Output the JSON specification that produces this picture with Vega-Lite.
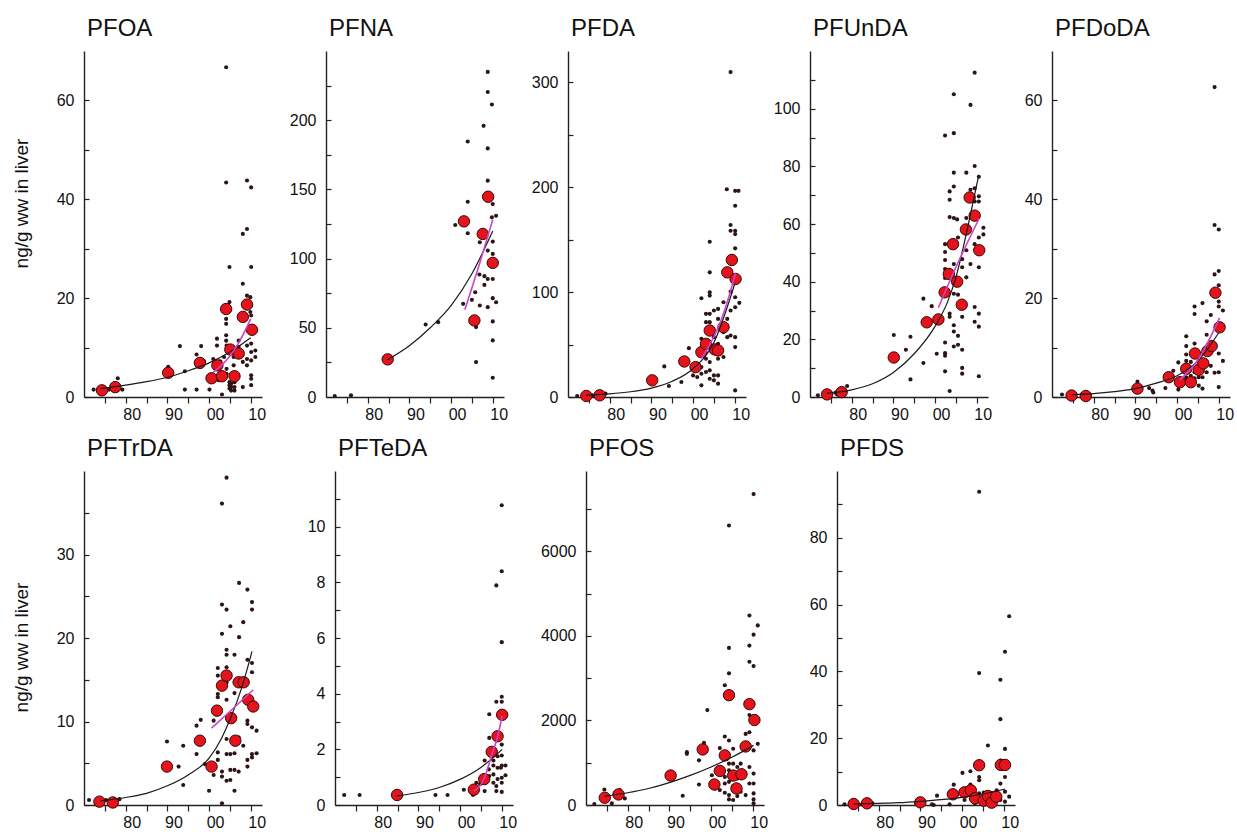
{
"$schema": "https://vega.github.io/schema/vega-lite/v6.json",
"background": "white",
"padding": {"left": 12, "top": 17, "right": 0, "bottom": 0},
"spacing": 15,
"datasets": {
"PFOA": [
{"k":"m","x":1974.3,"y":1.35},{"k":"m","x":1977.5,"y":2.0},{"k":"m","x":1990.2,"y":4.9},{"k":"m","x":1997.8,"y":6.9},{"k":"m","x":2000.6,"y":3.8},{"k":"m","x":2002,"y":6.4},{"k":"m","x":2003.1,"y":4.2},{"k":"m","x":2004.1,"y":17.8},{"k":"m","x":2005.1,"y":9.6},{"k":"m","x":2006.1,"y":4.2},{"k":"m","x":2007.1,"y":8.8},{"k":"m","x":2008.1,"y":16.2},{"k":"m","x":2009.1,"y":18.7},{"k":"m","x":2010.3,"y":13.6},
{"k":"f","x":1974,"y":1.7},{"k":"f","x":1980,"y":2.4},{"k":"f","x":1985,"y":3.1},{"k":"f","x":1990,"y":4.0},{"k":"f","x":1995,"y":5.3},{"k":"f","x":2000,"y":6.9},{"k":"f","x":2005,"y":9.1},{"k":"f","x":2010,"y":12.0},
{"k":"t","x":2001,"y":5.0},{"k":"t","x":2003,"y":6.4},{"k":"t","x":2005,"y":8.3},{"k":"t","x":2007,"y":10.8},{"k":"t","x":2010,"y":15.8},
{"k":"s","x":1972.3,"y":1.5},{"k":"s","x":1975.2,"y":1.6},{"k":"s","x":1976,"y":1.5},{"k":"s","x":1978,"y":1.6},{"k":"s","x":1979.2,"y":1.5},{"k":"s","x":1978.1,"y":3.8},{"k":"s","x":1990.2,"y":6.1},{"k":"s","x":1993,"y":10.3},{"k":"s","x":1994.2,"y":5.2},{"k":"s","x":1994.2,"y":1.5},{"k":"s","x":1997,"y":1.5},{"k":"s","x":1997,"y":8.6},{"k":"s","x":1998.1,"y":10.3},{"k":"s","x":1998.8,"y":7.2},{"k":"s","x":2000.1,"y":1.5},{"k":"s","x":2001,"y":7.7},{"k":"s","x":2001.9,"y":11.8},{"k":"s","x":2001.9,"y":10.4},{"k":"s","x":2002.3,"y":3.4},{"k":"s","x":2002.7,"y":7.2},{"k":"s","x":2003.1,"y":0.5},{"k":"s","x":2003.6,"y":8.1},{"k":"s","x":2004.1,"y":43.4},{"k":"s","x":2004.1,"y":66.7},{"k":"s","x":2004.1,"y":15.8},{"k":"s","x":2004.1,"y":14.8},{"k":"s","x":2004.1,"y":12.5},{"k":"s","x":2004.1,"y":11.4},{"k":"s","x":2004.2,"y":10.4},{"k":"s","x":2004.2,"y":5.7},{"k":"s","x":2004.2,"y":4.7},{"k":"s","x":2004.9,"y":26.3},{"k":"s","x":2004.9,"y":19.2},{"k":"s","x":2004.9,"y":3.0},{"k":"s","x":2004.9,"y":2.4},{"k":"s","x":2004.9,"y":1.7},{"k":"s","x":2005.3,"y":2.7},{"k":"s","x":2005.3,"y":2.0},{"k":"s","x":2005.3,"y":1.3},{"k":"s","x":2005.9,"y":9.1},{"k":"s","x":2005.9,"y":8.1},{"k":"s","x":2005.9,"y":6.4},{"k":"s","x":2006.1,"y":3.0},{"k":"s","x":2006.1,"y":2.0},{"k":"s","x":2006.1,"y":1.3},{"k":"s","x":2007.1,"y":11.4},{"k":"s","x":2007.1,"y":10.1},{"k":"s","x":2008.1,"y":22.9},{"k":"s","x":2008.1,"y":33},{"k":"s","x":2008.1,"y":2.0},{"k":"s","x":2008.1,"y":7.1},{"k":"s","x":2009.1,"y":43.8},{"k":"s","x":2009.1,"y":34},{"k":"s","x":2009.1,"y":20.5},{"k":"s","x":2009.9,"y":20.2},{"k":"s","x":2009.1,"y":7.7},{"k":"s","x":2009.1,"y":6.4},{"k":"s","x":2009.9,"y":17.2},{"k":"s","x":2010.1,"y":42.4},{"k":"s","x":2010.1,"y":26.3},{"k":"s","x":2010.1,"y":18.5},{"k":"s","x":2010.1,"y":16.5},{"k":"s","x":2010.1,"y":10.8},{"k":"s","x":2010.1,"y":9.1},{"k":"s","x":2010.1,"y":7.4},{"k":"s","x":2010.1,"y":4.4},{"k":"s","x":2010.1,"y":3.7},{"k":"s","x":2010.1,"y":2.4},{"k":"s","x":2011.1,"y":9.4},{"k":"s","x":2011.1,"y":8.1},{"k":"s","x":2009.1,"y":10.4}
],
"PFNA": [
{"k":"m","x":1984.8,"y":27.2},{"k":"m","x":2003.1,"y":126.9},{"k":"m","x":2005.6,"y":55.3},{"k":"m","x":2007.6,"y":117.8},{"k":"m","x":2008.9,"y":144.7},{"k":"m","x":2010,"y":96.9},
{"k":"f","x":1984.8,"y":27},{"k":"f","x":1990,"y":37},{"k":"f","x":1995,"y":50},{"k":"f","x":2000,"y":66},{"k":"f","x":2005,"y":89},{"k":"f","x":2010,"y":120},
{"k":"t","x":2003.3,"y":63},{"k":"t","x":2006.7,"y":95},{"k":"t","x":2010,"y":128},
{"k":"s","x":1972.1,"y":0.7},{"k":"s","x":1976,"y":1.2},{"k":"s","x":1993.9,"y":52.4},{"k":"s","x":1996.9,"y":54.1},{"k":"s","x":2001,"y":124.3},{"k":"s","x":2002.9,"y":67.3},{"k":"s","x":2004,"y":184.6},{"k":"s","x":2004,"y":141.1},{"k":"s","x":2004,"y":118.3},{"k":"s","x":2005,"y":70.2},{"k":"s","x":2005.8,"y":75.7},{"k":"s","x":2006,"y":50.5},{"k":"s","x":2006,"y":25.2},{"k":"s","x":2006.8,"y":88.5},{"k":"s","x":2006.9,"y":111.8},{"k":"s","x":2006.9,"y":66.1},{"k":"s","x":2007.8,"y":195.9},{"k":"s","x":2008,"y":87.3},{"k":"s","x":2008,"y":81},{"k":"s","x":2008.8,"y":234.9},{"k":"s","x":2008.8,"y":220.4},{"k":"s","x":2008.8,"y":179.6},{"k":"s","x":2008.8,"y":156.3},{"k":"s","x":2008.8,"y":105.8},{"k":"s","x":2008.8,"y":85.3},{"k":"s","x":2008.8,"y":64.9},{"k":"s","x":2009.8,"y":211.3},{"k":"s","x":2010,"y":139.4},{"k":"s","x":2009.8,"y":129.8},{"k":"s","x":2010,"y":112.3},{"k":"s","x":2010,"y":103.4},{"k":"s","x":2010,"y":85.3},{"k":"s","x":2010,"y":71.4},{"k":"s","x":2010,"y":54.6},{"k":"s","x":2010,"y":40.9},{"k":"s","x":2010,"y":13.9},{"k":"s","x":2010.8,"y":131},{"k":"s","x":2010.8,"y":68.5}
],
"PFDA": [
{"k":"m","x":1974.4,"y":1},{"k":"m","x":1977.6,"y":1.6},{"k":"m","x":1990.2,"y":15.9},{"k":"m","x":1997.9,"y":33.9},{"k":"m","x":2000.6,"y":28.5},{"k":"m","x":2002,"y":42.8},{"k":"m","x":2003.1,"y":50.7},{"k":"m","x":2004,"y":63.4},{"k":"m","x":2005.2,"y":45.4},{"k":"m","x":2006,"y":44.4},{"k":"m","x":2007.3,"y":66.6},{"k":"m","x":2008.2,"y":118.9},{"k":"m","x":2009.3,"y":130.7},{"k":"m","x":2010.2,"y":112.6},
{"k":"f","x":1974.4,"y":1.8},{"k":"f","x":1980,"y":3},{"k":"f","x":1985,"y":5},{"k":"f","x":1990,"y":8.5},{"k":"f","x":1995,"y":15},{"k":"f","x":2000,"y":27},{"k":"f","x":2005,"y":52},{"k":"f","x":2010,"y":108},
{"k":"t","x":2002,"y":37},{"k":"t","x":2004,"y":50},{"k":"t","x":2006,"y":66},{"k":"t","x":2008,"y":88},{"k":"t","x":2010.2,"y":118},
{"k":"s","x":1972.2,"y":1},{"k":"s","x":1975.8,"y":1.6},{"k":"s","x":1976.8,"y":1},{"k":"s","x":1979,"y":3.2},{"k":"s","x":1993.1,"y":29.2},{"k":"s","x":1994.2,"y":10.5},{"k":"s","x":1997.2,"y":14.3},{"k":"s","x":1999,"y":46.6},{"k":"s","x":2000,"y":20.6},{"k":"s","x":2001,"y":19},{"k":"s","x":2002,"y":94.2},{"k":"s","x":2002,"y":55.5},{"k":"s","x":2002,"y":28.5},{"k":"s","x":2002,"y":22.2},{"k":"s","x":2002,"y":11.1},{"k":"s","x":2003.1,"y":79.3},{"k":"s","x":2003.1,"y":71.4},{"k":"s","x":2003.1,"y":49.2},{"k":"s","x":2003.1,"y":36.5},{"k":"s","x":2003.1,"y":23.8},{"k":"s","x":2004,"y":148.1},{"k":"s","x":2004,"y":118.9},{"k":"s","x":2004,"y":99.9},{"k":"s","x":2004,"y":96.7},{"k":"s","x":2004,"y":79.3},{"k":"s","x":2004,"y":71.4},{"k":"s","x":2004,"y":61.8},{"k":"s","x":2004,"y":33.3},{"k":"s","x":2004,"y":25.4},{"k":"s","x":2004,"y":17.4},{"k":"s","x":2005,"y":82.5},{"k":"s","x":2005,"y":57.1},{"k":"s","x":2005,"y":20.6},{"k":"s","x":2005,"y":15.9},{"k":"s","x":2006,"y":84},{"k":"s","x":2006,"y":74.5},{"k":"s","x":2006,"y":50.7},{"k":"s","x":2006,"y":36.5},{"k":"s","x":2006,"y":20.6},{"k":"s","x":2006,"y":12.7},{"k":"s","x":2007.3,"y":90.4},{"k":"s","x":2007.3,"y":61.8},{"k":"s","x":2007.3,"y":38.1},{"k":"s","x":2008.1,"y":198.2},{"k":"s","x":2008.2,"y":57.1},{"k":"s","x":2008.2,"y":74.5},{"k":"s","x":2009,"y":164},{"k":"s","x":2009,"y":158.6},{"k":"s","x":2009,"y":309.9},{"k":"s","x":2009,"y":82.5},{"k":"s","x":2009,"y":58.7},{"k":"s","x":2009,"y":100.5},{"k":"s","x":2010.1,"y":196.6},{"k":"s","x":2010.9,"y":196.6},{"k":"s","x":2010.1,"y":182.4},{"k":"s","x":2010.1,"y":158.6},{"k":"s","x":2010.1,"y":155.4},{"k":"s","x":2010.1,"y":141.8},{"k":"s","x":2010.1,"y":85.6},{"k":"s","x":2010.1,"y":95.1},{"k":"s","x":2010.1,"y":57.1},{"k":"s","x":2010.1,"y":47.6},{"k":"s","x":2010.1,"y":6.3},{"k":"s","x":2011.1,"y":89.8}
],
"PFUnDA": [
{"k":"m","x":1974.1,"y":0.9},{"k":"m","x":1977.6,"y":1.7},{"k":"m","x":1990.1,"y":13.7},{"k":"m","x":1998,"y":25.9},{"k":"m","x":2000.8,"y":26.9},{"k":"m","x":2002.3,"y":36.3},{"k":"m","x":2003.3,"y":42.7},{"k":"m","x":2004.3,"y":53},{"k":"m","x":2005.3,"y":40},{"k":"m","x":2006.4,"y":32},{"k":"m","x":2007.4,"y":58.1},{"k":"m","x":2008.3,"y":69.2},{"k":"m","x":2009.5,"y":62.9},{"k":"m","x":2010.6,"y":50.9},
{"k":"f","x":1974,"y":1.3},{"k":"f","x":1980,"y":2.5},{"k":"f","x":1985,"y":4.6},{"k":"f","x":1990,"y":8.5},{"k":"f","x":1995,"y":15},{"k":"f","x":2000,"y":24.5},{"k":"f","x":2003,"y":33},{"k":"f","x":2005,"y":41.5},{"k":"f","x":2008,"y":60},{"k":"f","x":2010.5,"y":77},
{"k":"t","x":2000.8,"y":31},{"k":"t","x":2005,"y":45},{"k":"t","x":2010.6,"y":62},
{"k":"s","x":1971.9,"y":0.6},{"k":"s","x":1976.1,"y":1.5},{"k":"s","x":1976.5,"y":0.9},{"k":"s","x":1978.9,"y":3.8},{"k":"s","x":1990.1,"y":21.5},{"k":"s","x":1993,"y":16.4},{"k":"s","x":1994.1,"y":20.9},{"k":"s","x":1994.1,"y":6.1},{"k":"s","x":1997.2,"y":11.8},{"k":"s","x":1997.2,"y":34.1},{"k":"s","x":1999.2,"y":31.5},{"k":"s","x":2000.4,"y":15},{"k":"s","x":2001.5,"y":26.3},{"k":"s","x":2002.4,"y":90.7},{"k":"s","x":2002.4,"y":53},{"k":"s","x":2002.4,"y":50.3},{"k":"s","x":2002.4,"y":47.5},{"k":"s","x":2002.4,"y":44.4},{"k":"s","x":2002.4,"y":41.3},{"k":"s","x":2002.4,"y":18.9},{"k":"s","x":2002.4,"y":15.2},{"k":"s","x":2002.4,"y":14.3},{"k":"s","x":2002.4,"y":8.9},{"k":"s","x":2003.5,"y":71.3},{"k":"s","x":2003.5,"y":68.4},{"k":"s","x":2003.5,"y":62.4},{"k":"s","x":2004.5,"y":62.1},{"k":"s","x":2005.3,"y":61.6},{"k":"s","x":2003.5,"y":28.9},{"k":"s","x":2003.5,"y":27.8},{"k":"s","x":2003.5,"y":2.1},{"k":"s","x":2004.5,"y":105},{"k":"s","x":2004.5,"y":91.5},{"k":"s","x":2004.5,"y":77.8},{"k":"s","x":2004.5,"y":73},{"k":"s","x":2004.5,"y":46.1},{"k":"s","x":2004.5,"y":35.8},{"k":"s","x":2004.5,"y":24.9},{"k":"s","x":2004.5,"y":22.7},{"k":"s","x":2004.5,"y":17.5},{"k":"s","x":2005.5,"y":55.3},{"k":"s","x":2005.5,"y":35.5},{"k":"s","x":2005.5,"y":21.2},{"k":"s","x":2005.5,"y":18.1},{"k":"s","x":2006.5,"y":47.8},{"k":"s","x":2006.5,"y":45},{"k":"s","x":2006.5,"y":27.8},{"k":"s","x":2006.5,"y":16.4},{"k":"s","x":2006.5,"y":10.1},{"k":"s","x":2006.5,"y":8.1},{"k":"s","x":2007.5,"y":77.8},{"k":"s","x":2007.5,"y":62.1},{"k":"s","x":2007.5,"y":50.9},{"k":"s","x":2007.5,"y":41.5},{"k":"s","x":2008.5,"y":101.3},{"k":"s","x":2008.5,"y":71.9},{"k":"s","x":2008.5,"y":46.1},{"k":"s","x":2009.5,"y":112.5},{"k":"s","x":2009.5,"y":80.1},{"k":"s","x":2009.5,"y":72.4},{"k":"s","x":2009.5,"y":67.8},{"k":"s","x":2009.5,"y":53},{"k":"s","x":2009.5,"y":31.2},{"k":"s","x":2009.5,"y":26.1},{"k":"s","x":2010.5,"y":76.4},{"k":"s","x":2010.5,"y":69.6},{"k":"s","x":2010.5,"y":67.8},{"k":"s","x":2010.5,"y":55.3},{"k":"s","x":2010.5,"y":45},{"k":"s","x":2010.5,"y":28.9},{"k":"s","x":2010.5,"y":24.4},{"k":"s","x":2010.5,"y":7.2},{"k":"s","x":2011.6,"y":58.7},{"k":"s","x":2011.6,"y":56.4}
],
"PFDoDA": [
{"k":"m","x":1974.7,"y":0.3},{"k":"m","x":1978.1,"y":0.2},{"k":"m","x":1990.5,"y":1.7},{"k":"m","x":1998,"y":4.0},{"k":"m","x":2000.7,"y":3.0},{"k":"m","x":2002.2,"y":5.7},{"k":"m","x":2003.3,"y":3.0},{"k":"m","x":2004.3,"y":8.8},{"k":"m","x":2005.2,"y":5.5},{"k":"m","x":2006.3,"y":6.8},{"k":"m","x":2007.3,"y":9.3},{"k":"m","x":2008.3,"y":10.3},{"k":"m","x":2009.2,"y":21.1},{"k":"m","x":2010.2,"y":14.1},
{"k":"f","x":1974.7,"y":0.5},{"k":"f","x":1980,"y":0.7},{"k":"f","x":1985,"y":1.1},{"k":"f","x":1990,"y":1.7},{"k":"f","x":1995,"y":2.8},{"k":"f","x":2000,"y":4.3},{"k":"f","x":2005,"y":7.3},{"k":"f","x":2010,"y":13.0},
{"k":"t","x":2000.7,"y":3.5},{"k":"t","x":2005,"y":7.5},{"k":"t","x":2010.2,"y":16},
{"k":"s","x":1972.4,"y":0.5},{"k":"s","x":1977.1,"y":0.5},{"k":"s","x":1979,"y":0.5},{"k":"s","x":1990.5,"y":3.1},{"k":"s","x":1993.3,"y":1.8},{"k":"s","x":1994.1,"y":1.3},{"k":"s","x":1994.3,"y":0.9},{"k":"s","x":1997.2,"y":1.8},{"k":"s","x":1999.1,"y":5.3},{"k":"s","x":2000.3,"y":1.5},{"k":"s","x":2000.3,"y":2.5},{"k":"s","x":2000.3,"y":7},{"k":"s","x":2002.2,"y":12.3},{"k":"s","x":2002.2,"y":10.3},{"k":"s","x":2002.2,"y":8.6},{"k":"s","x":2002.2,"y":7.3},{"k":"s","x":2002.2,"y":4},{"k":"s","x":2002.2,"y":3.3},{"k":"s","x":2003.3,"y":7.1},{"k":"s","x":2003.3,"y":4.3},{"k":"s","x":2003.3,"y":3.7},{"k":"s","x":2004.2,"y":18.3},{"k":"s","x":2004.2,"y":16.8},{"k":"s","x":2004.2,"y":10.8},{"k":"s","x":2004.2,"y":8.6},{"k":"s","x":2004.2,"y":5},{"k":"s","x":2004.2,"y":3.8},{"k":"s","x":2005.2,"y":7.3},{"k":"s","x":2005.2,"y":6},{"k":"s","x":2005.2,"y":4},{"k":"s","x":2005.2,"y":2.3},{"k":"s","x":2006.1,"y":19},{"k":"s","x":2006.1,"y":8.8},{"k":"s","x":2006.1,"y":4},{"k":"s","x":2006.1,"y":1.7},{"k":"s","x":2007.1,"y":15.3},{"k":"s","x":2007.1,"y":12.6},{"k":"s","x":2007.1,"y":6.7},{"k":"s","x":2007.1,"y":5},{"k":"s","x":2008.1,"y":16.6},{"k":"s","x":2008.1,"y":9.4},{"k":"s","x":2008.1,"y":6.3},{"k":"s","x":2009,"y":62.7},{"k":"s","x":2009,"y":34.8},{"k":"s","x":2009,"y":24.8},{"k":"s","x":2009,"y":4.9},{"k":"s","x":2010,"y":33.9},{"k":"s","x":2010,"y":25.5},{"k":"s","x":2010,"y":22.6},{"k":"s","x":2010,"y":19.3},{"k":"s","x":2010,"y":18.3},{"k":"s","x":2010,"y":8.8},{"k":"s","x":2010,"y":5},{"k":"s","x":2010,"y":2},{"k":"s","x":2011,"y":17.5},{"k":"s","x":2011,"y":7.3}
],
"PFTrDA": [
{"k":"m","x":1973.7,"y":0.4},{"k":"m","x":1976.9,"y":0.3},{"k":"m","x":1989.9,"y":4.6},{"k":"m","x":1997.8,"y":7.7},{"k":"m","x":2000.6,"y":4.6},{"k":"m","x":2001.9,"y":11.3},{"k":"m","x":2003.1,"y":14.3},{"k":"m","x":2004.2,"y":15.5},{"k":"m","x":2005.3,"y":10.4},{"k":"m","x":2006.3,"y":7.7},{"k":"m","x":2007.1,"y":14.7},{"k":"m","x":2008.3,"y":14.7},{"k":"m","x":2009.4,"y":12.6},{"k":"m","x":2010.6,"y":11.8},
{"k":"f","x":1974,"y":0.5},{"k":"f","x":1980,"y":0.9},{"k":"f","x":1985,"y":1.4},{"k":"f","x":1990,"y":2.3},{"k":"f","x":1995,"y":3.6},{"k":"f","x":2000,"y":5.6},{"k":"f","x":2003,"y":8.0},{"k":"f","x":2005,"y":10.2},{"k":"f","x":2008,"y":14.3},{"k":"f","x":2010.3,"y":18.4},
{"k":"t","x":2000.6,"y":9.2},{"k":"t","x":2005,"y":11.2},{"k":"t","x":2010.6,"y":13.8},
{"k":"s","x":1971.2,"y":0.6},{"k":"s","x":1975.3,"y":0.6},{"k":"s","x":1976.5,"y":0.5},{"k":"s","x":1978.5,"y":0.7},{"k":"s","x":1989.9,"y":7.6},{"k":"s","x":1992.7,"y":4.6},{"k":"s","x":1993.8,"y":7.1},{"k":"s","x":1993.8,"y":2.4},{"k":"s","x":1997,"y":9.5},{"k":"s","x":1997,"y":6.1},{"k":"s","x":1998,"y":10.2},{"k":"s","x":1999,"y":4.9},{"k":"s","x":2000,"y":1.7},{"k":"s","x":2001.1,"y":10.1},{"k":"s","x":2001.1,"y":3.6},{"k":"s","x":2002.1,"y":16.4},{"k":"s","x":2002.1,"y":15.5},{"k":"s","x":2002.1,"y":13.3},{"k":"s","x":2002.1,"y":12.9},{"k":"s","x":2002.1,"y":6.3},{"k":"s","x":2002.1,"y":5.4},{"k":"s","x":2003.1,"y":36.1},{"k":"s","x":2003.1,"y":24},{"k":"s","x":2003.1,"y":20.5},{"k":"s","x":2003.1,"y":0.2},{"k":"s","x":2003.1,"y":4},{"k":"s","x":2003.1,"y":3.4},{"k":"s","x":2004.2,"y":39.2},{"k":"s","x":2004.2,"y":23.4},{"k":"s","x":2004.2,"y":18.6},{"k":"s","x":2004.2,"y":18},{"k":"s","x":2004.2,"y":16.5},{"k":"s","x":2004.2,"y":14.7},{"k":"s","x":2004.2,"y":12.6},{"k":"s","x":2004.2,"y":7.9},{"k":"s","x":2004.2,"y":6.1},{"k":"s","x":2004.2,"y":2.9},{"k":"s","x":2005.1,"y":21.4},{"k":"s","x":2005.1,"y":4.2},{"k":"s","x":2005.1,"y":3},{"k":"s","x":2005.1,"y":6.1},{"k":"s","x":2006.1,"y":18},{"k":"s","x":2006.1,"y":13.4},{"k":"s","x":2006.1,"y":6.2},{"k":"s","x":2006.1,"y":4.2},{"k":"s","x":2006.1,"y":1.7},{"k":"s","x":2007.1,"y":4},{"k":"s","x":2007.1,"y":8.1},{"k":"s","x":2007.2,"y":26.6},{"k":"s","x":2007.2,"y":20.1},{"k":"s","x":2008.2,"y":21.9},{"k":"s","x":2008.2,"y":7.1},{"k":"s","x":2009.2,"y":25.8},{"k":"s","x":2009.2,"y":17.4},{"k":"s","x":2009.2,"y":10.1},{"k":"s","x":2009.2,"y":9.7},{"k":"s","x":2009.2,"y":5.4},{"k":"s","x":2009.2,"y":4.6},{"k":"s","x":2010.3,"y":24.3},{"k":"s","x":2010.3,"y":23.4},{"k":"s","x":2010.3,"y":17},{"k":"s","x":2010.3,"y":15.9},{"k":"s","x":2010.3,"y":9.3},{"k":"s","x":2010.3,"y":6.1},{"k":"s","x":2010.3,"y":5.7},{"k":"s","x":2011.4,"y":8.9},{"k":"s","x":2011.4,"y":6.2}
],
"PFTeDA": [
{"k":"m","x":1984.9,"y":0.36},{"k":"m","x":2003.3,"y":0.55},{"k":"m","x":2005.8,"y":0.93},{"k":"m","x":2007.6,"y":1.91},{"k":"m","x":2009,"y":2.47},{"k":"m","x":2010.1,"y":3.24},
{"k":"f","x":1984.9,"y":0.33},{"k":"f","x":1990,"y":0.45},{"k":"f","x":1995,"y":0.63},{"k":"f","x":2000,"y":0.92},{"k":"f","x":2005,"y":1.35},{"k":"f","x":2010.1,"y":2.0},
{"k":"t","x":2003.3,"y":0.5},{"k":"t","x":2005.8,"y":0.95},{"k":"t","x":2007.6,"y":1.8},{"k":"t","x":2009,"y":2.45},{"k":"t","x":2010.1,"y":3.2},
{"k":"s","x":1972.2,"y":0.36},{"k":"s","x":1975.9,"y":0.36},{"k":"s","x":1994.1,"y":0.36},{"k":"s","x":1997,"y":0.36},{"k":"s","x":2000.9,"y":0.55},{"k":"s","x":2003.1,"y":0.36},{"k":"s","x":2003.9,"y":0.8},{"k":"s","x":2004.8,"y":0.75},{"k":"s","x":2005.9,"y":0.5},{"k":"s","x":2005.9,"y":1.6},{"k":"s","x":2006.9,"y":1.28},{"k":"s","x":2007,"y":3.26},{"k":"s","x":2007,"y":2.41},{"k":"s","x":2007,"y":1.04},{"k":"s","x":2008,"y":1.99},{"k":"s","x":2008,"y":1.6},{"k":"s","x":2008,"y":1.42},{"k":"s","x":2008,"y":1.1},{"k":"s","x":2008,"y":0.8},{"k":"s","x":2008.7,"y":7.89},{"k":"s","x":2008.7,"y":3.71},{"k":"s","x":2008.7,"y":0.68},{"k":"s","x":2008.7,"y":0.5},{"k":"s","x":2009,"y":1.34},{"k":"s","x":2009,"y":0.93},{"k":"s","x":2009,"y":1.75},{"k":"s","x":2009.8,"y":1.34},{"k":"s","x":2010,"y":10.77},{"k":"s","x":2010,"y":8.4},{"k":"s","x":2010,"y":5.85},{"k":"s","x":2010,"y":3.89},{"k":"s","x":2010,"y":3.71},{"k":"s","x":2010,"y":2.17},{"k":"s","x":2010,"y":1.78},{"k":"s","x":2010,"y":1.42},{"k":"s","x":2010,"y":0.98},{"k":"s","x":2010,"y":0.8},{"k":"s","x":2010,"y":0.47},{"k":"s","x":2010.9,"y":1.42},{"k":"s","x":2010.9,"y":1.07}
],
"PFOS": [
{"k":"m","x":1974.5,"y":172},{"k":"m","x":1977.8,"y":250},{"k":"m","x":1990.3,"y":696},{"k":"m","x":1998,"y":1314},{"k":"m","x":2000.8,"y":485},{"k":"m","x":2002.1,"y":806},{"k":"m","x":2003.3,"y":1173},{"k":"m","x":2004.3,"y":2597},{"k":"m","x":2005.3,"y":696},{"k":"m","x":2006.1,"y":391},{"k":"m","x":2007.3,"y":727},{"k":"m","x":2008.3,"y":1385},{"k":"m","x":2009.2,"y":2386},{"k":"m","x":2010.4,"y":2010},
{"k":"f","x":1974.5,"y":210},{"k":"f","x":1980,"y":290},{"k":"f","x":1985,"y":390},{"k":"f","x":1990,"y":530},{"k":"f","x":1995,"y":700},{"k":"f","x":2000,"y":900},{"k":"f","x":2005,"y":1130},{"k":"f","x":2010.2,"y":1410},
{"k":"s","x":1972,"y":23},{"k":"s","x":1974.4,"y":368},{"k":"s","x":1976.2,"y":39},{"k":"s","x":1978.1,"y":352},{"k":"s","x":1979.3,"y":156},{"k":"s","x":1993.2,"y":219},{"k":"s","x":1994.2,"y":1250},{"k":"s","x":1994.2,"y":1210},{"k":"s","x":1997.1,"y":1056},{"k":"s","x":1997.1,"y":485},{"k":"s","x":1998.3,"y":1471},{"k":"s","x":1999.1,"y":2245},{"k":"s","x":2000.2,"y":704},{"k":"s","x":2001,"y":391},{"k":"s","x":2002.1,"y":1346},{"k":"s","x":2002.1,"y":352},{"k":"s","x":2003.3,"y":2832},{"k":"s","x":2003.3,"y":1619},{"k":"s","x":2003.3,"y":665},{"k":"s","x":2003.3,"y":509},{"k":"s","x":2003.3,"y":289},{"k":"s","x":2004.3,"y":6610},{"k":"s","x":2004.3,"y":3716},{"k":"s","x":2004.3,"y":3114},{"k":"s","x":2004.3,"y":1525},{"k":"s","x":2004.3,"y":978},{"k":"s","x":2004.3,"y":821},{"k":"s","x":2004.3,"y":548},{"k":"s","x":2004.3,"y":235},{"k":"s","x":2004.3,"y":133},{"k":"s","x":2005.3,"y":1330},{"k":"s","x":2005.3,"y":978},{"k":"s","x":2005.3,"y":446},{"k":"s","x":2005.3,"y":117},{"k":"s","x":2006.3,"y":900},{"k":"s","x":2006.3,"y":211},{"k":"s","x":2006.3,"y":626},{"k":"s","x":2007.1,"y":743},{"k":"s","x":2007.1,"y":313},{"k":"s","x":2007.1,"y":978},{"k":"s","x":2008.3,"y":1682},{"k":"s","x":2008.3,"y":235},{"k":"s","x":2009.2,"y":4483},{"k":"s","x":2009.2,"y":3771},{"k":"s","x":2009.2,"y":3387},{"k":"s","x":2009.2,"y":2128},{"k":"s","x":2009.2,"y":1721},{"k":"s","x":2009.2,"y":900},{"k":"s","x":2009.2,"y":508},{"k":"s","x":2010.2,"y":7354},{"k":"s","x":2010.2,"y":4029},{"k":"s","x":2010.2,"y":3286},{"k":"s","x":2010.2,"y":1291},{"k":"s","x":2010.2,"y":743},{"k":"s","x":2010.2,"y":508},{"k":"s","x":2010.2,"y":274},{"k":"s","x":2010.2,"y":133},{"k":"s","x":2010.2,"y":39},{"k":"s","x":2011.2,"y":4248},{"k":"s","x":2011.2,"y":1447}
],
"PFDS": [
{"k":"m","x":1974,"y":0.3},{"k":"m","x":1977.2,"y":0.5},{"k":"m","x":1990,"y":0.8},{"k":"m","x":1997.8,"y":3.2},{"k":"m","x":2000.6,"y":3.8},{"k":"m","x":2002.1,"y":4.4},{"k":"m","x":2003.1,"y":2.0},{"k":"m","x":2004.1,"y":11.9},{"k":"m","x":2005.2,"y":1.3},{"k":"m","x":2006.2,"y":2.7},{"k":"m","x":2007.1,"y":0.7},{"k":"m","x":2008.2,"y":2.5},{"k":"m","x":2009.3,"y":12.0},{"k":"m","x":2010.3,"y":12.0},
{"k":"f","x":1974,"y":0.3},{"k":"f","x":1980,"y":0.5},{"k":"f","x":1985,"y":0.7},{"k":"f","x":1990,"y":1.1},{"k":"f","x":1995,"y":1.6},{"k":"f","x":2000,"y":2.3},{"k":"f","x":2005,"y":3.3},{"k":"f","x":2010.3,"y":4.8},
{"k":"s","x":1971.8,"y":0.2},{"k":"s","x":1976,"y":0.2},{"k":"s","x":1978.5,"y":0.5},{"k":"s","x":1989,"y":0.5},{"k":"s","x":1992.8,"y":0.2},{"k":"s","x":1993.2,"y":0},{"k":"s","x":1994,"y":2.8},{"k":"s","x":1997,"y":0.2},{"k":"s","x":1998,"y":6.1},{"k":"s","x":2000.1,"y":9.6},{"k":"s","x":2000.6,"y":1.5},{"k":"s","x":2002,"y":10.1},{"k":"s","x":2002,"y":6.1},{"k":"s","x":2003.1,"y":2.5},{"k":"s","x":2003.1,"y":0.5},{"k":"s","x":2004.1,"y":93.8},{"k":"s","x":2004.1,"y":39.5},{"k":"s","x":2004.1,"y":8.4},{"k":"s","x":2004.1,"y":7.4},{"k":"s","x":2004.1,"y":3.5},{"k":"s","x":2004.1,"y":1.5},{"k":"s","x":2005.2,"y":3.7},{"k":"s","x":2005.2,"y":0.7},{"k":"s","x":2006.2,"y":17.8},{"k":"s","x":2006.2,"y":1.5},{"k":"s","x":2007.2,"y":3.5},{"k":"s","x":2007.2,"y":1},{"k":"s","x":2008.3,"y":2},{"k":"s","x":2008.3,"y":4.4},{"k":"s","x":2009.2,"y":37.5},{"k":"s","x":2009.2,"y":25.7},{"k":"s","x":2009.2,"y":13.3},{"k":"s","x":2009.2,"y":6.4},{"k":"s","x":2009.2,"y":1.5},{"k":"s","x":2010.3,"y":45.9},{"k":"s","x":2010.3,"y":16.8},{"k":"s","x":2010.3,"y":10.9},{"k":"s","x":2010.3,"y":8.4},{"k":"s","x":2010.3,"y":4},{"k":"s","x":2010.3,"y":1},{"k":"s","x":2011.3,"y":56.5},{"k":"s","x":2011.3,"y":2.5}
]
},
"vconcat": [
{"bounds": "flush", "spacing": 64, "hconcat": [
{"width":178,"height":346,"title":"PFOA","data":{"name":"PFOA"},
"encoding":{"x":{"field":"x","type":"quantitative","scale":{"domain":[1970,2012.7],"nice":false,"zero":false},"axis":{"values":[1975,1980,1985,1990,1995,2000,2005,2010],"labelExpr":"datum.value % 10 === 0 ? substring(toString(datum.value), 2, 4) : ''","title":null}},
"y":{"field":"y","type":"quantitative","scale":{"domain":[0,70],"nice":false},"axis":{"values":[0,10,20,30,40,50,60],"labelExpr":"datum.value % 20 === 0 ? datum.label : ''","title":"ng/g ww in liver","titleY":152}}},
"layer":[
{"transform":[{"filter":"datum.k == 's'"}],"mark":{"type":"circle","size":17,"color":"#2e1414","opacity":1}},
{"transform":[{"filter":"datum.k == 'm'"}],"mark":{"type":"circle","size":130,"fill":"#e5131b","stroke":"#3a0505","strokeWidth":1,"opacity":1}},
{"transform":[{"filter":"datum.k == 'f'"}],"mark":{"type":"line","color":"#1a1a1a","strokeWidth":1.2,"interpolate":"monotone"},"encoding":{}},
{"transform":[{"filter":"datum.k == 't'"}],"mark":{"type":"line","color":"#cc44cc","strokeWidth":1.6,"interpolate":"monotone"},"encoding":{}}
]},
{"width":178,"height":346,"title":"PFNA","data":{"name":"PFNA"},
"encoding":{"x":{"field":"x","type":"quantitative","scale":{"domain":[1970,2012.7],"nice":false,"zero":false},"axis":{"values":[1975,1980,1985,1990,1995,2000,2005,2010],"labelExpr":"datum.value % 10 === 0 ? substring(toString(datum.value), 2, 4) : ''","title":null}},
"y":{"field":"y","type":"quantitative","scale":{"domain":[0,250],"nice":false},"axis":{"values":[0,25,50,75,100,125,150,175,200,225],"labelExpr":"datum.value % 50 === 0 ? datum.label : ''","title":null}}},
"layer":[
{"transform":[{"filter":"datum.k == 's'"}],"mark":{"type":"circle","size":17,"color":"#2e1414","opacity":1}},
{"transform":[{"filter":"datum.k == 'm'"}],"mark":{"type":"circle","size":130,"fill":"#e5131b","stroke":"#3a0505","strokeWidth":1,"opacity":1}},
{"transform":[{"filter":"datum.k == 'f'"}],"mark":{"type":"line","color":"#1a1a1a","strokeWidth":1.2,"interpolate":"monotone"},"encoding":{}},
{"transform":[{"filter":"datum.k == 't'"}],"mark":{"type":"line","color":"#cc44cc","strokeWidth":1.6,"interpolate":"monotone"},"encoding":{}}
]},
{"width":178,"height":346,"title":"PFDA","data":{"name":"PFDA"},
"encoding":{"x":{"field":"x","type":"quantitative","scale":{"domain":[1970,2012.7],"nice":false,"zero":false},"axis":{"values":[1975,1980,1985,1990,1995,2000,2005,2010],"labelExpr":"datum.value % 10 === 0 ? substring(toString(datum.value), 2, 4) : ''","title":null}},
"y":{"field":"y","type":"quantitative","scale":{"domain":[0,330],"nice":false},"axis":{"values":[0,50,100,150,200,250,300],"labelExpr":"datum.value % 100 === 0 ? datum.label : ''","title":null}}},
"layer":[
{"transform":[{"filter":"datum.k == 's'"}],"mark":{"type":"circle","size":17,"color":"#2e1414","opacity":1}},
{"transform":[{"filter":"datum.k == 'm'"}],"mark":{"type":"circle","size":130,"fill":"#e5131b","stroke":"#3a0505","strokeWidth":1,"opacity":1}},
{"transform":[{"filter":"datum.k == 'f'"}],"mark":{"type":"line","color":"#1a1a1a","strokeWidth":1.2,"interpolate":"monotone"},"encoding":{}},
{"transform":[{"filter":"datum.k == 't'"}],"mark":{"type":"line","color":"#cc44cc","strokeWidth":1.6,"interpolate":"monotone"},"encoding":{}}
]},
{"width":178,"height":346,"title":"PFUnDA","data":{"name":"PFUnDA"},
"encoding":{"x":{"field":"x","type":"quantitative","scale":{"domain":[1970,2012.7],"nice":false,"zero":false},"axis":{"values":[1975,1980,1985,1990,1995,2000,2005,2010],"labelExpr":"datum.value % 10 === 0 ? substring(toString(datum.value), 2, 4) : ''","title":null}},
"y":{"field":"y","type":"quantitative","scale":{"domain":[0,120],"nice":false},"axis":{"values":[0,10,20,30,40,50,60,70,80,90,100,110],"labelExpr":"datum.value % 20 === 0 ? datum.label : ''","title":null}}},
"layer":[
{"transform":[{"filter":"datum.k == 's'"}],"mark":{"type":"circle","size":17,"color":"#2e1414","opacity":1}},
{"transform":[{"filter":"datum.k == 'm'"}],"mark":{"type":"circle","size":130,"fill":"#e5131b","stroke":"#3a0505","strokeWidth":1,"opacity":1}},
{"transform":[{"filter":"datum.k == 'f'"}],"mark":{"type":"line","color":"#1a1a1a","strokeWidth":1.2,"interpolate":"monotone"},"encoding":{}},
{"transform":[{"filter":"datum.k == 't'"}],"mark":{"type":"line","color":"#cc44cc","strokeWidth":1.6,"interpolate":"monotone"},"encoding":{}}
]},
{"width":178,"height":346,"title":"PFDoDA","data":{"name":"PFDoDA"},
"encoding":{"x":{"field":"x","type":"quantitative","scale":{"domain":[1970,2012.7],"nice":false,"zero":false},"axis":{"values":[1975,1980,1985,1990,1995,2000,2005,2010],"labelExpr":"datum.value % 10 === 0 ? substring(toString(datum.value), 2, 4) : ''","title":null}},
"y":{"field":"y","type":"quantitative","scale":{"domain":[0,70],"nice":false},"axis":{"values":[0,10,20,30,40,50,60],"labelExpr":"datum.value % 20 === 0 ? datum.label : ''","title":null}}},
"layer":[
{"transform":[{"filter":"datum.k == 's'"}],"mark":{"type":"circle","size":17,"color":"#2e1414","opacity":1}},
{"transform":[{"filter":"datum.k == 'm'"}],"mark":{"type":"circle","size":130,"fill":"#e5131b","stroke":"#3a0505","strokeWidth":1,"opacity":1}},
{"transform":[{"filter":"datum.k == 'f'"}],"mark":{"type":"line","color":"#1a1a1a","strokeWidth":1.2,"interpolate":"monotone"},"encoding":{}},
{"transform":[{"filter":"datum.k == 't'"}],"mark":{"type":"line","color":"#cc44cc","strokeWidth":1.6,"interpolate":"monotone"},"encoding":{}}
]}
]},
{"bounds": "flush", "spacing": 73, "hconcat": [
{"width":178,"height":334,"title":"PFTrDA","data":{"name":"PFTrDA"},
"encoding":{"x":{"field":"x","type":"quantitative","scale":{"domain":[1970,2012.7],"nice":false,"zero":false},"axis":{"values":[1975,1980,1985,1990,1995,2000,2005,2010],"labelExpr":"datum.value % 10 === 0 ? substring(toString(datum.value), 2, 4) : ''","title":null}},
"y":{"field":"y","type":"quantitative","scale":{"domain":[0,40],"nice":false},"axis":{"values":[0,5,10,15,20,25,30,35],"labelExpr":"datum.value % 10 === 0 ? datum.label : ''","title":"ng/g ww in liver","titleY":176}}},
"layer":[
{"transform":[{"filter":"datum.k == 's'"}],"mark":{"type":"circle","size":17,"color":"#2e1414","opacity":1}},
{"transform":[{"filter":"datum.k == 'm'"}],"mark":{"type":"circle","size":130,"fill":"#e5131b","stroke":"#3a0505","strokeWidth":1,"opacity":1}},
{"transform":[{"filter":"datum.k == 'f'"}],"mark":{"type":"line","color":"#1a1a1a","strokeWidth":1.2,"interpolate":"monotone"},"encoding":{}},
{"transform":[{"filter":"datum.k == 't'"}],"mark":{"type":"line","color":"#cc44cc","strokeWidth":1.6,"interpolate":"monotone"},"encoding":{}}
]},
{"width":178,"height":334,"title":"PFTeDA","data":{"name":"PFTeDA"},
"encoding":{"x":{"field":"x","type":"quantitative","scale":{"domain":[1970,2012.7],"nice":false,"zero":false},"axis":{"values":[1975,1980,1985,1990,1995,2000,2005,2010],"labelExpr":"datum.value % 10 === 0 ? substring(toString(datum.value), 2, 4) : ''","title":null}},
"y":{"field":"y","type":"quantitative","scale":{"domain":[0,12],"nice":false},"axis":{"values":[0,1,2,3,4,5,6,7,8,9,10,11],"labelExpr":"datum.value % 2 === 0 ? datum.label : ''","title":null}}},
"layer":[
{"transform":[{"filter":"datum.k == 's'"}],"mark":{"type":"circle","size":17,"color":"#2e1414","opacity":1}},
{"transform":[{"filter":"datum.k == 'm'"}],"mark":{"type":"circle","size":130,"fill":"#e5131b","stroke":"#3a0505","strokeWidth":1,"opacity":1}},
{"transform":[{"filter":"datum.k == 'f'"}],"mark":{"type":"line","color":"#1a1a1a","strokeWidth":1.2,"interpolate":"monotone"},"encoding":{}},
{"transform":[{"filter":"datum.k == 't'"}],"mark":{"type":"line","color":"#cc44cc","strokeWidth":1.6,"interpolate":"monotone"},"encoding":{}}
]},
{"width":178,"height":334,"title":"PFOS","data":{"name":"PFOS"},
"encoding":{"x":{"field":"x","type":"quantitative","scale":{"domain":[1970,2012.7],"nice":false,"zero":false},"axis":{"values":[1975,1980,1985,1990,1995,2000,2005,2010],"labelExpr":"datum.value % 10 === 0 ? substring(toString(datum.value), 2, 4) : ''","title":null}},
"y":{"field":"y","type":"quantitative","scale":{"domain":[0,7900],"nice":false},"axis":{"values":[0,1000,2000,3000,4000,5000,6000,7000],"format":"d","labelExpr":"datum.value % 2000 === 0 ? datum.label : ''","title":null}}},
"layer":[
{"transform":[{"filter":"datum.k == 's'"}],"mark":{"type":"circle","size":17,"color":"#2e1414","opacity":1}},
{"transform":[{"filter":"datum.k == 'm'"}],"mark":{"type":"circle","size":130,"fill":"#e5131b","stroke":"#3a0505","strokeWidth":1,"opacity":1}},
{"transform":[{"filter":"datum.k == 'f'"}],"mark":{"type":"line","color":"#1a1a1a","strokeWidth":1.2,"interpolate":"monotone"},"encoding":{}}
]},
{"width":178,"height":334,"title":"PFDS","data":{"name":"PFDS"},
"encoding":{"x":{"field":"x","type":"quantitative","scale":{"domain":[1970,2012.7],"nice":false,"zero":false},"axis":{"values":[1975,1980,1985,1990,1995,2000,2005,2010],"labelExpr":"datum.value % 10 === 0 ? substring(toString(datum.value), 2, 4) : ''","title":null}},
"y":{"field":"y","type":"quantitative","scale":{"domain":[0,100],"nice":false},"axis":{"values":[0,10,20,30,40,50,60,70,80,90],"labelExpr":"datum.value % 20 === 0 ? datum.label : ''","title":null}}},
"layer":[
{"transform":[{"filter":"datum.k == 's'"}],"mark":{"type":"circle","size":17,"color":"#2e1414","opacity":1}},
{"transform":[{"filter":"datum.k == 'm'"}],"mark":{"type":"circle","size":130,"fill":"#e5131b","stroke":"#3a0505","strokeWidth":1,"opacity":1}},
{"transform":[{"filter":"datum.k == 'f'"}],"mark":{"type":"line","color":"#1a1a1a","strokeWidth":1.2,"interpolate":"monotone"},"encoding":{}}
]}
]}
],
"config": {
"font": "Liberation Sans",
"view": {"stroke": null},
"axis": {"grid": false, "domainColor": "#222", "domainWidth": 1.4, "tickColor": "#222", "tickWidth": 1.2, "labelFont": "Liberation Sans", "labelFontSize": 16, "labelColor": "#111", "titleFont": "Liberation Sans", "titleFontSize": 19, "titleFontWeight": "normal", "titleColor": "#111", "labelOverlap": false, "labelFlush": false},
"axisX": {"tickSize": 6, "labelPadding": 3, "labelOffset": 6},
"axisY": {"tickSize": -5, "labelPadding": 15, "titlePadding": 25},
"title": {"anchor": "start", "frame": "group", "fontSize": 24, "fontWeight": "normal", "font": "Liberation Sans", "color": "#111", "baseline": "alphabetic", "offset": 10, "dx": 3}
}
}
